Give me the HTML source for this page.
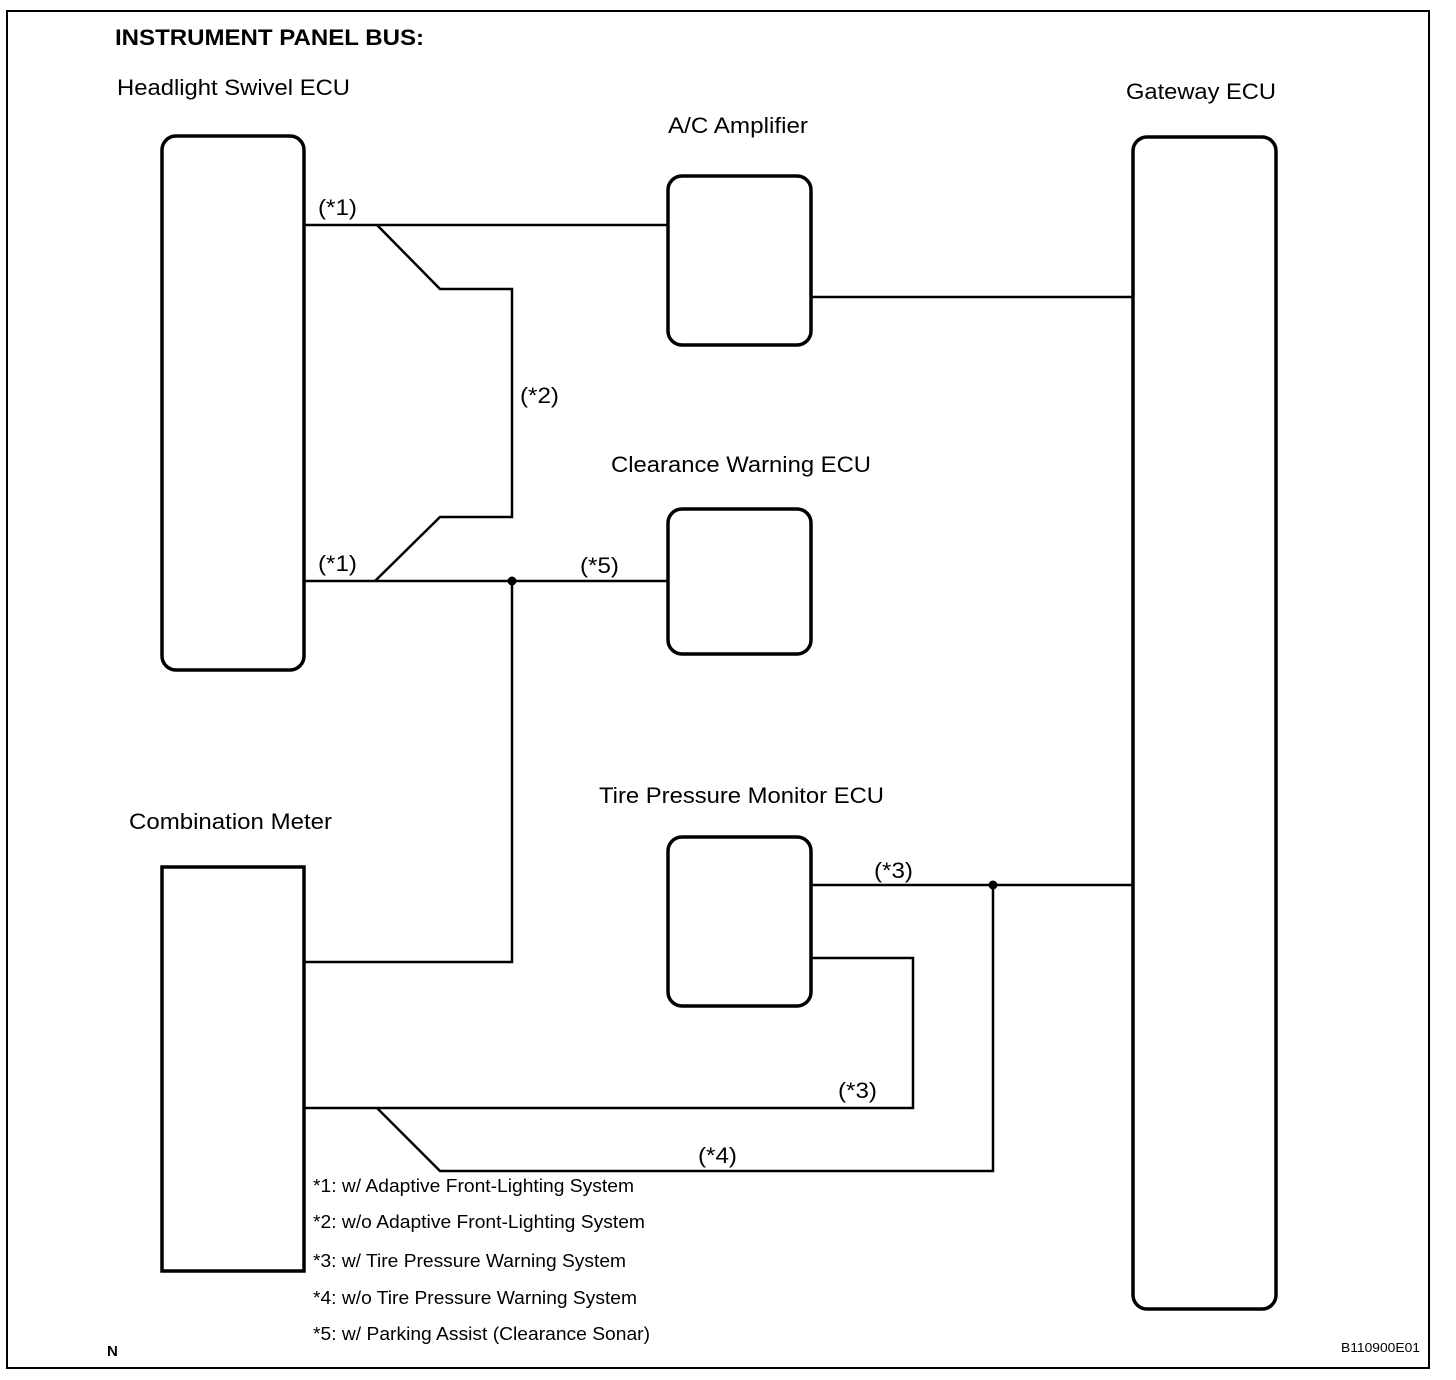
<!DOCTYPE html>
<html><head><meta charset="utf-8"><style>
html,body{margin:0;padding:0;background:#fff}
svg{display:block}
text{font-family:"Liberation Sans",Arial,sans-serif;fill:#000}
</style></head><body>
<svg width="1456" height="1380" viewBox="0 0 1456 1380" xmlns="http://www.w3.org/2000/svg">
<rect x="7" y="11" width="1422" height="1357" fill="none" stroke="#000" stroke-width="2"/>
<g fill="none" stroke="#000" stroke-width="3.5">
<rect x="162" y="136" width="142" height="534" rx="14"/>
<rect x="668" y="176" width="143" height="169" rx="14"/>
<rect x="1133" y="137" width="143" height="1172" rx="14"/>
<rect x="668" y="509" width="143" height="145" rx="14"/>
<rect x="668" y="837" width="143" height="169" rx="14"/>
<rect x="162" y="867" width="142" height="404"/>
</g>
<g fill="none" stroke="#000" stroke-width="2.5">
<path d="M304 225H668"/>
<path d="M377 225L440 289H512V517H440L375 581"/>
<path d="M304 581H668"/>
<path d="M512 581V962H304"/>
<path d="M811 297H1133"/>
<path d="M811 885H1133"/>
<path d="M993 885V1171H440L377 1108"/>
<path d="M811 958H913V1108H304"/>
</g>
<circle cx="512" cy="581" r="4.5"/>
<circle cx="993" cy="885" r="4.5"/>
<g font-size="22" lengthAdjust="spacingAndGlyphs">
<text x="115" y="45" font-weight="bold" textLength="309" lengthAdjust="spacingAndGlyphs">INSTRUMENT PANEL BUS:</text>
<text x="117" y="95" textLength="233" lengthAdjust="spacingAndGlyphs">Headlight Swivel ECU</text>
<text x="668" y="133" textLength="140" lengthAdjust="spacingAndGlyphs">A/C Amplifier</text>
<text x="1126" y="99" textLength="150" lengthAdjust="spacingAndGlyphs">Gateway ECU</text>
<text x="611" y="472" textLength="260" lengthAdjust="spacingAndGlyphs">Clearance Warning ECU</text>
<text x="599" y="803" textLength="285" lengthAdjust="spacingAndGlyphs">Tire Pressure Monitor ECU</text>
<text x="129" y="829" textLength="203" lengthAdjust="spacingAndGlyphs">Combination Meter</text>
<text x="318" y="215" textLength="39" lengthAdjust="spacingAndGlyphs">(*1)</text>
<text x="520" y="403" textLength="39" lengthAdjust="spacingAndGlyphs">(*2)</text>
<text x="318" y="571" textLength="39" lengthAdjust="spacingAndGlyphs">(*1)</text>
<text x="580" y="573" textLength="39" lengthAdjust="spacingAndGlyphs">(*5)</text>
<text x="874" y="878" textLength="39" lengthAdjust="spacingAndGlyphs">(*3)</text>
<text x="838" y="1098" textLength="39" lengthAdjust="spacingAndGlyphs">(*3)</text>
<text x="698" y="1163" textLength="39" lengthAdjust="spacingAndGlyphs">(*4)</text>
</g>
<g font-size="18">
<text x="313" y="1192" textLength="321" lengthAdjust="spacingAndGlyphs">*1: w/ Adaptive Front-Lighting System</text>
<text x="313" y="1228" textLength="332" lengthAdjust="spacingAndGlyphs">*2: w/o Adaptive Front-Lighting System</text>
<text x="313" y="1267" textLength="313" lengthAdjust="spacingAndGlyphs">*3: w/ Tire Pressure Warning System</text>
<text x="313" y="1304" textLength="324" lengthAdjust="spacingAndGlyphs">*4: w/o Tire Pressure Warning System</text>
<text x="313" y="1340" textLength="337" lengthAdjust="spacingAndGlyphs">*5: w/ Parking Assist (Clearance Sonar)</text>
</g>
<text x="107" y="1356" font-size="15" font-weight="bold">N</text>
<text x="1341" y="1352" font-size="13" textLength="79" lengthAdjust="spacingAndGlyphs">B110900E01</text>
</svg>
</body></html>
